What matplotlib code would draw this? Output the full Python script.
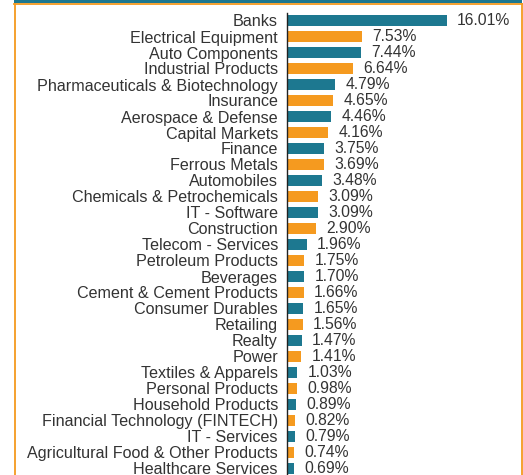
import matplotlib
matplotlib.use("Agg")
import matplotlib.pyplot as plt
from matplotlib.patches import Rectangle
from matplotlib.lines import Line2D

# sector weights (%)
sectors = [
    "Banks", "Electrical Equipment", "Auto Components", "Industrial Products",
    "Pharmaceuticals & Biotechnology", "Insurance", "Aerospace & Defense",
    "Capital Markets", "Finance", "Ferrous Metals", "Automobiles",
    "Chemicals & Petrochemicals", "IT - Software", "Construction",
    "Telecom - Services", "Petroleum Products", "Beverages",
    "Cement & Cement Products", "Consumer Durables", "Retailing", "Realty",
    "Power", "Textiles & Apparels", "Personal Products", "Household Products",
    "Financial Technology (FINTECH)", "IT - Services",
    "Agricultural Food & Other Products", "Healthcare Services",
]
weights = [
    16.01, 7.53, 7.44, 6.64, 4.79, 4.65, 4.46, 4.16, 3.75, 3.69, 3.48,
    3.09, 3.09, 2.90, 1.96, 1.75, 1.70, 1.66, 1.65, 1.56, 1.47, 1.41,
    1.03, 0.98, 0.89, 0.82, 0.79, 0.74, 0.69,
]

TEAL = "#1d7890"
ORANGE = "#f59a1f"
TEXT = "#333333"

W, H = 523, 475
fig = plt.figure(figsize=(W / 100, H / 100), dpi=100)
plt.rcParams['font.family'] = ['Liberation Sans', 'DejaVu Sans']


def fx(px):
    return px / W


def fy(py):
    return 1 - py / H


# frame around the panel
fig.add_artist(Rectangle((fx(14), fy(3.2)), fx(522) - fx(14), 3.2 / H,
                         transform=fig.transFigure, color=TEAL, lw=0))
for xs, ys in [([14.7, 14.7], [4, 475]), ([522, 522], [4, 475]), ([14, 523], [4, 4])]:
    fig.add_artist(Line2D([fx(x) for x in xs], [fy(y) for y in ys],
                          transform=fig.transFigure, color=ORANGE, lw=1.3))

# axes placed in pixels: 16 px per row, ~10 px per percent
left_px, right_px = 287, 515
top_px = 12.5
n = len(sectors)
bottom_px = top_px + n * 16
ax = fig.add_axes([fx(left_px), fy(bottom_px), (right_px - left_px) / W,
                   (bottom_px - top_px) / H])
ax.set_xlim(0, (right_px - left_px) / 9.97)
ax.set_ylim(n - 0.5, -0.5)

colors = [TEAL if i % 2 == 0 else ORANGE for i in range(n)]
ypos = list(range(n))
ax.barh(ypos, weights, height=0.64, color=colors)

for y, v in zip(ypos, weights):
    ax.annotate(f"{v:.2f}%", (v, y), xytext=(7.5, 0), textcoords="offset points",
                va="center", ha="left", fontsize=11.3, color=TEXT)

ax.set_yticks(ypos)
ax.set_yticklabels(sectors, fontsize=11.6, color=TEXT)
ax.tick_params(axis="y", length=0, pad=6.5)
ax.set_xticks([])
for s in ["top", "right", "bottom"]:
    ax.spines[s].set_visible(False)
ax.spines["left"].set_color("#222222")
ax.spines["left"].set_linewidth(1.0)
ax.patch.set_alpha(0)

fig.savefig("out.png", dpi=100)
